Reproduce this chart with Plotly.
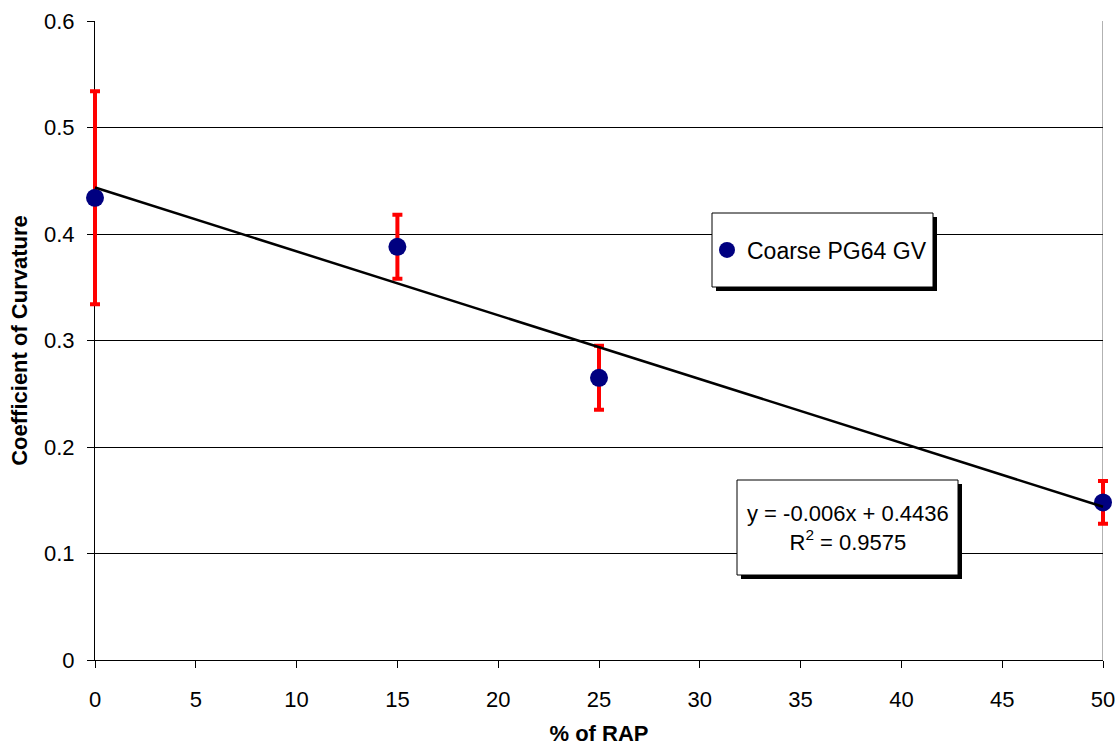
import numpy as np
import plotly.graph_objects as go

rap = [0, 15, 25, 50]
curvature = [0.434, 0.388, 0.265, 0.148]
err = [0.1, 0.03, 0.03, 0.02]
series_name = "Coarse PG64 GV"
x_ticks = [0, 5, 10, 15, 20, 25, 30, 35, 40, 45, 50]
y_ticks = [0, 0.1, 0.2, 0.3, 0.4, 0.5, 0.6]
y_tick_text = ["0", "0.1", "0.2", "0.3", "0.4", "0.5", "0.6"]

slope, intercept = np.polyfit(rap, curvature, 1)
pred = np.polyval([slope, intercept], rap)
ss_res = np.sum((np.array(curvature) - pred) ** 2)
ss_tot = np.sum((np.array(curvature) - np.mean(curvature)) ** 2)
r2 = 1 - ss_res / ss_tot
fit_x = [min(rap), max(rap)]
fit_y = list(np.polyval([slope, intercept], fit_x))

# geometry (pixels)
L, R, T, B = 85, 1113, 21, 660      # outer (data overlay) plot area
IL, IR = 95, 1103                  # inner axes area (0..50)
W, H = R - L, B - T
def px(x):
    return (x - L) / W
def py(y):
    return (B - y) / H
unit = 50 / (IR - IL)
x2_range = [0 - (IL - L) * unit, 50 + (R - IR) * unit]

FONT = "Arial, Liberation Sans, sans-serif"

fig = go.Figure()
fig.add_trace(go.Scatter(
    x=rap, y=curvature, mode="markers", name=series_name,
    marker=dict(color="#000080", size=18),
    error_y=dict(type="data", array=err, color="#ff0000", thickness=4, width=5),
    xaxis="x2", yaxis="y2",
))
fig.add_trace(go.Scatter(
    x=fit_x, y=fit_y, mode="lines", showlegend=False,
    line=dict(color="black", width=2.5),
    xaxis="x2", yaxis="y2",
))

# Legend box with shadow
fig.add_shape(type="rect", xref="paper", yref="paper",
              x0=px(716), x1=px(937), y0=py(291), y1=py(217),
              fillcolor="black", line=dict(width=0), layer="above")
fig.add_shape(type="rect", xref="paper", yref="paper",
              x0=px(712), x1=px(933), y0=py(287), y1=py(213),
              fillcolor="white", line=dict(color="black", width=1), layer="above")

# Equation box with shadow
fig.add_shape(type="rect", xref="paper", yref="paper",
              x0=px(741), x1=px(962), y0=py(579), y1=py(484),
              fillcolor="black", line=dict(width=0), layer="above")
fig.add_shape(type="rect", xref="paper", yref="paper",
              x0=px(737), x1=px(958), y0=py(575), y1=py(480),
              fillcolor="white", line=dict(color="black", width=1), layer="above")
fig.add_annotation(
    xref="paper", yref="paper", x=px(847.5), y=py(528),
    xanchor="center", yanchor="middle",
    text=f"y = {slope:.3f}x + {intercept:.4f}<br>R<sup>2</sup> = {r2:.4f}",
    showarrow=False, align="center",
    font=dict(family=FONT, size=22, color="black"),
)

fig.update_layout(
    width=1119, height=746,
    margin=dict(l=L, r=1119 - R, t=T, b=746 - B, autoexpand=False),
    paper_bgcolor="white", plot_bgcolor="rgba(0,0,0,0)",
    font=dict(family=FONT, size=23, color="black"),
    showlegend=True,
    legend=dict(
        x=px(707), y=py(250), xanchor="left", yanchor="middle",
        bgcolor="rgba(0,0,0,0)", borderwidth=0,
        font=dict(family=FONT, size=23),
        itemwidth=30,
    ),
    xaxis=dict(
        domain=[px(IL), px(IR)], anchor="y", automargin=False,
        range=[0, 50], tickvals=x_ticks, ticks="outside", ticklen=7,
        tickcolor="black", showline=True, linecolor="black", linewidth=1,
        showgrid=False, zeroline=False, ticklabelstandoff=13,
        title=dict(text="<b>% of RAP</b>", font=dict(size=22), standoff=17),
        tickfont=dict(size=22),
    ),
    yaxis=dict(
        domain=[0, 1], anchor="x", automargin=False,
        range=[0, 0.6], tickvals=y_ticks, ticktext=y_tick_text, ticks="outside",
        ticklen=7, tickcolor="black", showline=True, linecolor="black",
        linewidth=1, showgrid=True, gridcolor="black", gridwidth=1,
        zeroline=False, ticklabelstandoff=8,
        title=dict(text="<b>Coefficient of Curvature</b>", font=dict(size=22), standoff=10),
        tickfont=dict(size=22),
    ),
    xaxis2=dict(domain=[0, 1], anchor="y2", range=x2_range, visible=False,
                showgrid=False, zeroline=False, automargin=False),
    yaxis2=dict(domain=[0, 1], anchor="x2", range=[0, 0.6], visible=False,
                showgrid=False, zeroline=False, automargin=False),
)
# right border in gray
fig.add_shape(type="line", xref="x", yref="y", x0=50, x1=50, y0=0, y1=0.6,
              line=dict(color="#999999", width=1.5), layer="below")

fig.write_html("out.html")
